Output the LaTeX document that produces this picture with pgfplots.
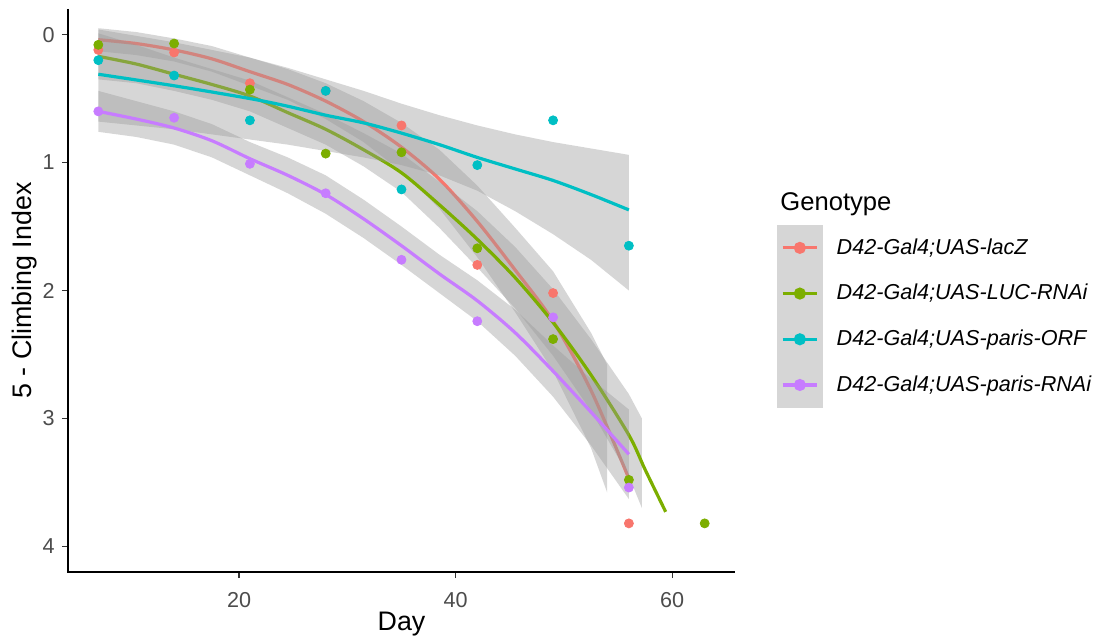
\documentclass[border=0pt]{standalone}
\usepackage{fontspec}
\setmainfont{Liberation Sans}
\usepackage{pgfplots}
\pgfplotsset{compat=1.18}
\definecolor{cR}{HTML}{F8766D}
\definecolor{cG}{HTML}{7CAE00}
\definecolor{cT}{HTML}{00BFC4}
\definecolor{cP}{HTML}{C77CFF}
\definecolor{keygray}{RGB}{214,214,214}
\begin{document}
\begin{tikzpicture}
\path[use as bounding box] (-34pt,-35pt) rectangle (518.5pt,286pt);
\begin{axis}[
 at={(0,0)}, anchor=south west, scale only axis,
 width=333.5pt, height=281.5pt,
 xmin=4.2, xmax=65.8, ymin=-0.2, ymax=4.2, y dir=reverse,
 axis line style={draw=none},
 xtick={20,40,60}, ytick={0,1,2,3,4},
 tick align=outside, tick pos=left,
 major tick length=3pt,
 tick style={color=black!80, line width=0.6pt},
 ticklabel style={font=\fontsize{10.8}{12}\selectfont, text=black!70, inner sep=0pt},
 xticklabel shift=7pt, yticklabel shift=3.5pt,
 /pgf/number format/assume math mode=true,
 xlabel={Day}, ylabel={5 - Climbing Index},
 label style={font=\fontsize{13.4}{15}\selectfont},
 xlabel style={at={(axis description cs:0.5,0)}, anchor=center, yshift=-26pt},
 ylabel style={at={(axis description cs:-0.0645,0.5)}, anchor=center},
 legend style={at={(1.063,0.6163)}, anchor=north west, draw=none, fill=none,
   inner sep=0pt, outer sep=0pt, row sep=0pt, column sep=7pt,
   font=\fontsize{10.8}{12}\itshape\selectfont, nodes={inner sep=0pt}},
 legend cell align=left,
 legend image code/.code={
   \fill[keygray] (0pt,-10.625pt) rectangle (21.25pt,10.625pt);
   \draw[#1,line width=1.6pt] (2pt,0pt)--(19.25pt,0pt);
   \fill[#1] (10.625pt,0pt) circle (2.2pt);},
 after end axis/.code={
   \draw[line width=0.6pt,black] (axis cs:4.2,-0.2) -- (axis cs:4.2,4.2) -- (axis cs:65.8,4.2);},
]
% points
\addplot[only marks, mark=*, mark size=2.25pt, cR, mark options={draw=none,fill=cR}, forget plot]
 coordinates {(7,0.12)(14,0.14)(21,0.38)(28,0.44)(35,0.71)(42,1.80)(49,2.02)(56,3.82)};
\addplot[only marks, mark=*, mark size=2.25pt, cG, mark options={draw=none,fill=cG}, forget plot]
 coordinates {(7,0.08)(14,0.07)(21,0.43)(28,0.93)(35,0.92)(42,1.67)(49,2.38)(56,3.48)(63,3.82)};
\addplot[only marks, mark=*, mark size=2.25pt, cT, mark options={draw=none,fill=cT}, forget plot]
 coordinates {(7,0.20)(14,0.32)(21,0.67)(28,0.44)(35,1.21)(42,1.02)(49,0.67)(56,1.65)};
\addplot[only marks, mark=*, mark size=2.25pt, cP, mark options={draw=none,fill=cP}, forget plot]
 coordinates {(7,0.60)(14,0.65)(21,1.01)(28,1.24)(35,1.76)(42,2.24)(49,2.21)(56,3.54)};
% lacZ
\addplot[fill=black!40, fill opacity=0.4, draw=none, forget plot] coordinates {
 (7,-0.05)(10.5,-0.02)(14,0.03)(17.5,0.09)(21,0.18)(24.5,0.27)(28,0.38)(31.5,0.52)(35,0.69)(38.5,0.90)(42,1.18)(45.5,1.51)(49,1.85)(52.5,2.33)(54,2.58)
 (54,3.58)(52.5,3.23)(49,2.63)(45.5,2.17)(42,1.74)(38.5,1.36)(35,1.07)(31.5,0.84)(28,0.66)(24.5,0.51)(21,0.40)(17.5,0.29)(14,0.21)(10.5,0.16)(7,0.13)} -- cycle;
\addplot[cR, line width=1.6pt, smooth, mark=none] coordinates {
 (7,0.04)(10.5,0.07)(14,0.12)(17.5,0.19)(21,0.29)(24.5,0.39)(28,0.52)(31.5,0.68)(35,0.88)(38.5,1.13)(42,1.46)(45.5,1.84)(49,2.24)(52.5,2.78)(56,3.47)};
\addlegendentry{D42-Gal4;UAS-lacZ}
% LUC-RNAi
\addplot[fill=black!40, fill opacity=0.4, draw=none, forget plot] coordinates {
 (7,-0.01)(10.5,0.08)(14,0.18)(17.5,0.27)(21,0.36)(24.5,0.49)(28,0.62)(31.5,0.77)(35,0.93)(38.5,1.15)(42,1.38)(45.5,1.66)(49,1.99)(52.5,2.38)(56,2.81)(57.2,3.00)
 (57.2,3.70)(56,3.45)(52.5,2.94)(49,2.51)(45.5,2.14)(42,1.82)(38.5,1.51)(35,1.23)(31.5,1.03)(28,0.86)(24.5,0.73)(21,0.60)(17.5,0.51)(14,0.44)(10.5,0.38)(7,0.35)} -- cycle;
\addplot[cG, line width=1.6pt, smooth, mark=none] coordinates {
 (7,0.17)(10.5,0.23)(14,0.31)(17.5,0.39)(21,0.48)(24.5,0.61)(28,0.74)(31.5,0.90)(35,1.08)(38.5,1.33)(42,1.60)(45.5,1.90)(49,2.25)(52.5,2.66)(56,3.13)(57.5,3.40)(59.4,3.73)};
\addlegendentry{D42-Gal4;UAS-LUC-RNAi}
% paris-ORF
\addplot[fill=black!40, fill opacity=0.4, draw=none, forget plot] coordinates {
 (7,-0.04)(14,0.06)(21,0.18)(24.5,0.26)(28,0.35)(31.5,0.44)(35,0.54)(38.5,0.63)(42,0.71)(45.5,0.78)(49,0.84)(52.5,0.89)(56,0.94)
 (56,2.00)(52.5,1.76)(49,1.56)(45.5,1.38)(42,1.22)(38.5,1.10)(35,1.02)(31.5,0.96)(28,0.91)(24.5,0.86)(21,0.82)(14,0.74)(7,0.68)} -- cycle;
\addplot[cT, line width=1.6pt, smooth, mark=none] coordinates {
 (7,0.31)(14,0.40)(21,0.50)(24.5,0.56)(28,0.63)(31.5,0.69)(35,0.77)(38.5,0.86)(42,0.96)(45.5,1.05)(49,1.14)(52.5,1.25)(56,1.37)};
\addlegendentry{D42-Gal4;UAS-paris-ORF}
% paris-RNAi
\addplot[fill=black!40, fill opacity=0.4, draw=none, forget plot] coordinates {
 (7,0.44)(10.5,0.52)(14,0.60)(17.5,0.70)(21,0.84)(24.5,0.96)(28,1.10)(31.5,1.29)(35,1.50)(38.5,1.72)(42,1.92)(45.5,2.15)(49,2.43)(52.5,2.69)(56,2.93)
 (56,3.63)(52.5,3.21)(49,2.83)(45.5,2.51)(42,2.24)(38.5,2.02)(35,1.80)(31.5,1.59)(28,1.40)(24.5,1.24)(21,1.10)(17.5,0.96)(14,0.86)(10.5,0.80)(7,0.76)} -- cycle;
\addplot[cP, line width=1.6pt, smooth, mark=none] coordinates {
 (7,0.60)(10.5,0.66)(14,0.73)(17.5,0.83)(21,0.97)(24.5,1.10)(28,1.25)(31.5,1.44)(35,1.65)(38.5,1.87)(42,2.08)(45.5,2.33)(49,2.63)(52.5,2.95)(56,3.28)};
\addlegendentry{D42-Gal4;UAS-paris-RNAi}
\end{axis}
\node[anchor=base west, inner sep=0pt, font=\fontsize{12.8}{14}\selectfont] at (356pt,180.5pt) {Genotype};
\end{tikzpicture}
\end{document}
